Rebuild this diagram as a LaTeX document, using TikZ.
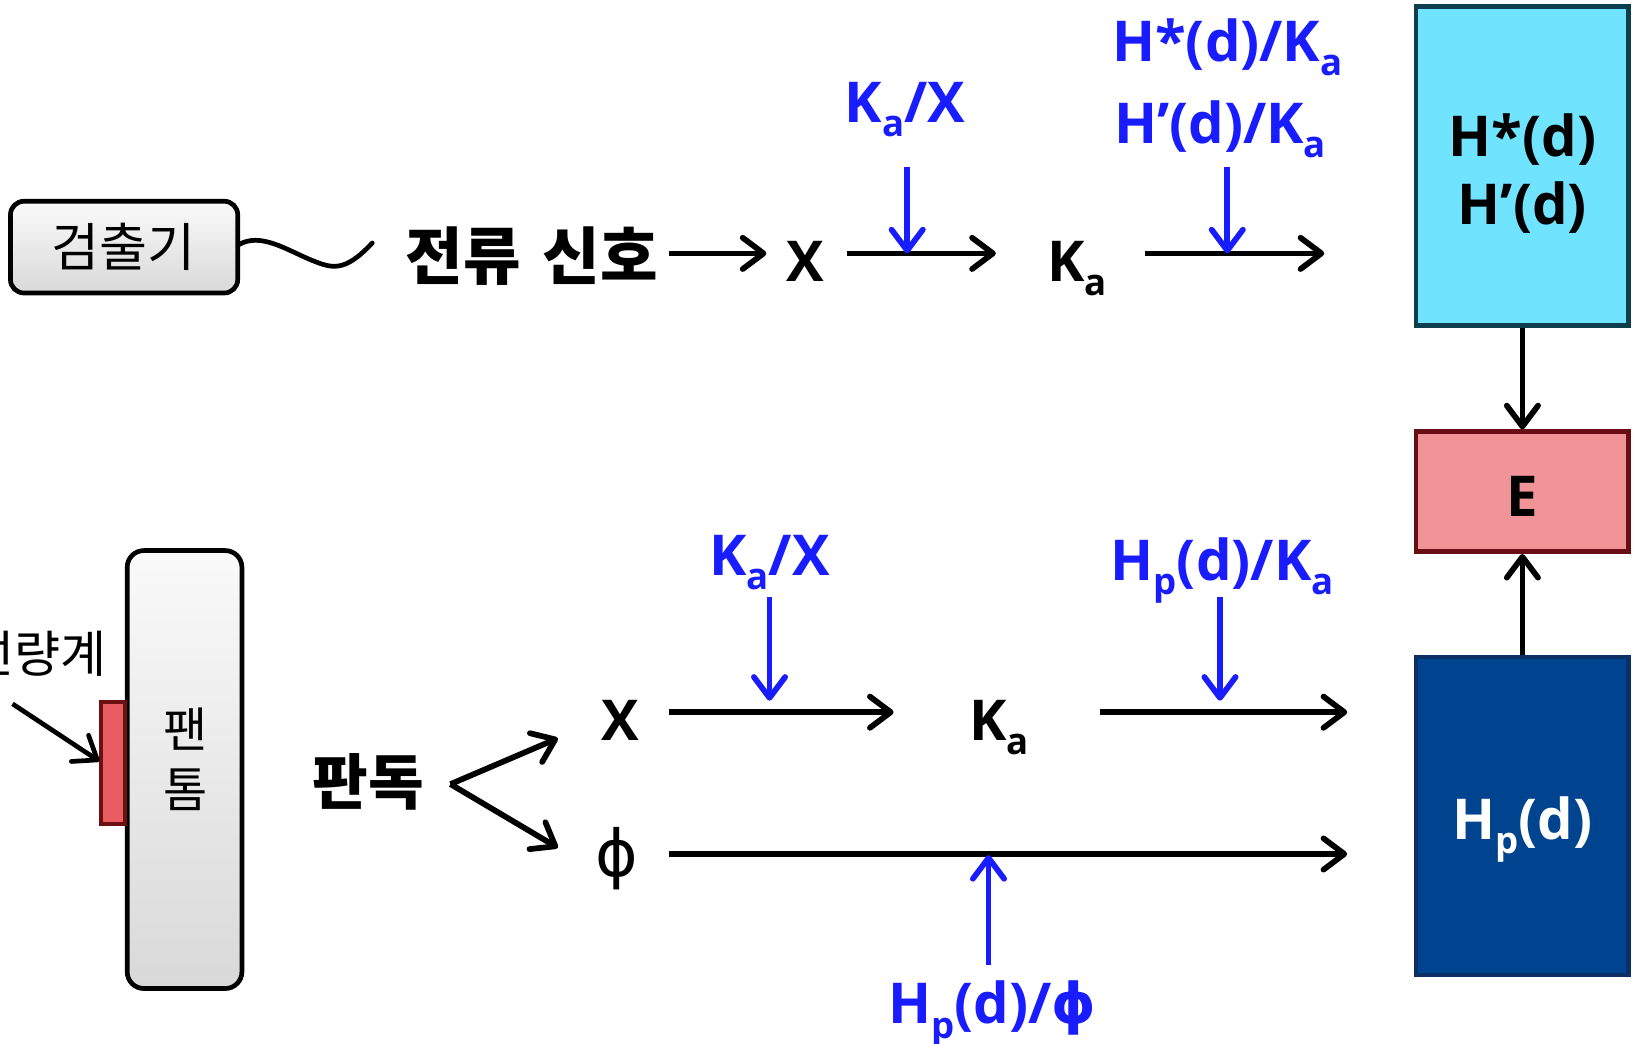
\documentclass[tikz,border=0pt]{standalone}
\usepackage{fontspec}
\usepackage{graphicx}
\setmainfont{Open Sans}
\newfontfamily\kr{Noto Sans CJK KR}
\newfontfamily\dv{DejaVu Sans}
\usetikzlibrary{arrows.meta}
\definecolor{lblue}{RGB}{24,28,255}
\definecolor{cyanfill}{RGB}{112,228,254}
\definecolor{cyanline}{RGB}{12,62,78}
\definecolor{pinkfill}{RGB}{240,148,152}
\definecolor{pinkline}{RGB}{104,14,20}
\definecolor{navyfill}{RGB}{0,67,142}
\definecolor{navyline}{RGB}{12,48,102}
\definecolor{redfill}{RGB}{232,92,98}
\definecolor{redline}{RGB}{107,17,17}
\newcommand\sbs[1]{\raisebox{-0.25em}{\scalebox{0.65}{#1}}}
\newcommand\bigf{\fontsize{54}{64}\selectfont\bfseries}
\newcommand\phis{{\dv ϕ}}
\begin{document}
\begin{tikzpicture}[x=1pt,y=-1pt,
  lbl/.style={inner sep=0pt,font=\bigf,anchor=base},
  bl/.style={lbl,text=lblue},
  arr/.style={line width=5.5pt,-{Straight Barb[round,length=20pt,width=30pt]}},
  barr/.style={arr,draw=lblue},
  graybox/.style={draw=black,line width=4.5pt,rounded corners=13pt,top color=gray!4,bottom color=gray!30},
  blk/.style={line width=4.5pt,inner sep=0pt}]
\useasboundingbox (0,0) rectangle (1568,1001);
\clip (0,0) rectangle (1568,1001);

% ---------- top row ----------
\node[graybox,minimum width=218pt,minimum height=88pt] (det) at (119,237) {};
\node[inner sep=0pt,font=\kr\fontsize{50}{56}\selectfont] (dett) at (118,237) {검출기};
\coordinate (wend) at (357,233);
\draw[line width=4.5pt,line cap=round] (det.east) ++(-2,-2) .. controls (250,222) and (275,240) .. (300,250)
  .. controls (318,257) and (330,262) .. (wend);
\node[inner sep=0pt,font=\kr\bfseries\fontsize{60}{66}\selectfont] (sig) at (510,246) {전류\hspace{0.35em}신호};
\node[lbl] (x1) at (772,270) {X};
\node[lbl] (k1) at (1033,270) {K\sbs{a}};
\coordinate (a1s) at (642,243); \coordinate (a1e) at (735,243);
\coordinate (a2s) at (812,243); \coordinate (a2e) at (955,243);
\coordinate (a3s) at (1098,243); \coordinate (a3e) at (1270,243);
\draw[arr] (a1s) -- (a1e);
\draw[arr] (a2s) -- (a2e);
\draw[arr] (a3s) -- (a3e);
\node[bl] (kx1) at (868,117) {K\sbs{a}/X};
\node[bl] (hs) at (1177,59) {H*(d)/K\sbs{a}};
\node[bl] (hp) at (1170,138) {H’(d)/K\sbs{a}};
\coordinate (b1s) at (870,160); \coordinate (b1e) at (870,243);
\coordinate (b2s) at (1177,160); \coordinate (b2e) at (1177,243);
\draw[barr] (b1s) -- (b1e);
\draw[barr] (b2s) -- (b2e);

% ---------- right boxes ----------
\node[blk,draw=cyanline,fill=cyanfill,minimum width=204pt,minimum height=306pt] (cy) at (1460,159) {};
\node[lbl] (cyt1) at (1460,150) {H*(d)};
\node[lbl] (cyt2) at (1460,215) {H’(d)};
\node[blk,draw=pinkline,fill=pinkfill,minimum width=204pt,minimum height=115pt] (E) at (1460,471.5) {};
\node[lbl] (Et) at (1460,495) {E};
\node[blk,draw=navyline,fill=navyfill,minimum width=204pt,minimum height=305pt] (hpb) at (1460,782.5) {};
\node[lbl,text=white] (hpt) at (1460,805) {H\sbs{p}(d)};
\draw[arr] (cy.south) -- (E.north);
\draw[arr] (hpb.north) -- (E.south);

% ---------- bottom left ----------
\node[graybox,rounded corners=16pt,minimum width=110pt,minimum height=420pt] (ph) at (177,738) {};
\node[inner sep=0pt,align=center,font=\kr\fontsize{46}{57}\selectfont] (pht) at (178,728) {팬\\톰};
\node[draw=redline,fill=redfill,line width=3.5pt,inner sep=0pt,minimum width=23pt,minimum height=117pt] (dos) at (108.5,731.5) {};
\node[inner sep=0pt,font=\kr\fontsize{48}{54}\selectfont,anchor=east] (dost) at (102,627) {선량계};
\coordinate (dosa) at (12,675);
\draw[arr,line width=4.5pt] (dosa) -- (dos.west |- 0,730);

\node[inner sep=0pt,font=\kr\bfseries\fontsize{58}{64}\selectfont] (rd) at (353,750) {판독};
\coordinate (fork) at (432,752);
\node[lbl] (x2) at (595,710) {X};
\node[inner sep=0pt,font=\dv\fontsize{62}{70}\selectfont] (phi) at (592,823) {ϕ};
\draw[arr] (fork) -- (535,708);
\draw[arr] (fork) -- (535,813);
\node[lbl] (k2) at (958,710) {K\sbs{a}};
\coordinate (c1s) at (642,683); \coordinate (c1e) at (857,683);
\coordinate (c2s) at (1055,683); \coordinate (c2e) at (1292,683);
\coordinate (c3s) at (642,819); \coordinate (c3e) at (1292,819);
\draw[arr] (c1s) -- (c1e);
\draw[arr] (c2s) -- (c2e);
\draw[arr] (c3s) -- (c3e);
\node[bl] (kx2) at (738,552) {K\sbs{a}/X};
\node[bl] (hpk) at (1172,557) {H\sbs{p}(d)/K\sbs{a}};
\node[bl] (hpf) at (952,982) {H\sbs{p}(d)/\phis};
\coordinate (d1s) at (738,573); \coordinate (d1e) at (738,672);
\coordinate (d2s) at (1170,573); \coordinate (d2e) at (1170,672);
\coordinate (d3s) at (948,925); \coordinate (d3e) at (948,820);
\draw[barr] (d1s) -- (d1e);
\draw[barr] (d2s) -- (d2e);
\draw[barr] (d3s) -- (d3e);
\end{tikzpicture}
\end{document}
